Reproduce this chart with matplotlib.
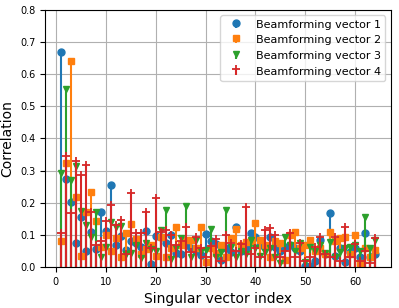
import numpy as np
import matplotlib
matplotlib.use('Agg')
import matplotlib.pyplot as plt

# singular vector index 1..64
idx = np.arange(1, 65)

# correlation values, one list per beamforming vector
bf1 = [0.670, 0.274, 0.203, 0.075, 0.155, 0.050, 0.110, 0.057, 0.171, 0.113,
       0.255, 0.068, 0.095, 0.053, 0.080, 0.075, 0.063, 0.113, 0.010, 0.095,
       0.094, 0.075, 0.100, 0.043, 0.040, 0.070, 0.060, 0.050, 0.037, 0.103,
       0.080, 0.072, 0.022, 0.060, 0.048, 0.124, 0.050, 0.060, 0.107, 0.094,
       0.070, 0.063, 0.094, 0.063, 0.050, 0.063, 0.070, 0.058, 0.050, 0.004,
       0.004, 0.020, 0.084, 0.040, 0.169, 0.034, 0.060, 0.015, 0.048, 0.060,
       0.032, 0.105, 0.030, 0.040]
bf2 = [0.082, 0.323, 0.641, 0.218, 0.035, 0.170, 0.233, 0.142, 0.062, 0.100,
       0.050, 0.090, 0.030, 0.107, 0.134, 0.086, 0.040, 0.055, 0.070, 0.035,
       0.094, 0.030, 0.060, 0.124, 0.070, 0.084, 0.084, 0.060, 0.124, 0.017,
       0.060, 0.045, 0.068, 0.030, 0.090, 0.117, 0.070, 0.079, 0.080, 0.136,
       0.084, 0.070, 0.030, 0.080, 0.074, 0.023, 0.100, 0.110, 0.060, 0.070,
       0.084, 0.050, 0.060, 0.040, 0.110, 0.080, 0.090, 0.094, 0.040, 0.100,
       0.014, 0.060, 0.030, 0.054]
bf3 = [0.294, 0.553, 0.271, 0.315, 0.173, 0.130, 0.094, 0.170, 0.031, 0.063,
       0.141, 0.125, 0.128, 0.040, 0.043, 0.068, 0.027, 0.076, 0.057, 0.050,
       0.116, 0.177, 0.025, 0.060, 0.089, 0.191, 0.032, 0.083, 0.050, 0.052,
       0.117, 0.030, 0.048, 0.177, 0.063, 0.030, 0.050, 0.040, 0.084, 0.060,
       0.035, 0.048, 0.060, 0.030, 0.011, 0.094, 0.070, 0.050, 0.074, 0.015,
       0.062, 0.050, 0.070, 0.045, 0.079, 0.030, 0.048, 0.060, 0.062, 0.070,
       0.050, 0.157, 0.060, 0.085]
bf4 = [0.105, 0.345, 0.168, 0.330, 0.286, 0.318, 0.172, 0.070, 0.082, 0.144,
       0.193, 0.131, 0.146, 0.040, 0.231, 0.105, 0.105, 0.170, 0.060, 0.214,
       0.110, 0.115, 0.100, 0.068, 0.080, 0.124, 0.048, 0.092, 0.060, 0.030,
       0.065, 0.086, 0.020, 0.100, 0.076, 0.050, 0.072, 0.186, 0.040, 0.060,
       0.030, 0.115, 0.120, 0.100, 0.030, 0.050, 0.105, 0.030, 0.075, 0.020,
       0.030, 0.063, 0.094, 0.040, 0.030, 0.094, 0.020, 0.125, 0.030, 0.072,
       0.020, 0.050, 0.011, 0.090]

series = [bf1, bf2, bf3, bf4]
labels = ['Beamforming vector 1', 'Beamforming vector 2',
          'Beamforming vector 3', 'Beamforming vector 4']
markers = ['o', 's', 'v', '+']
colors = ['C0', 'C1', 'C2', 'C3']

fig = plt.figure(figsize=(3.99, 3.08), dpi=100)
ax = fig.add_axes([0.113, 0.133, 0.867, 0.835])

for vals, lab, mk, col in zip(series, labels, markers, colors):
    ml, sl, bl = ax.stem(idx, vals, linefmt=col + '-', markerfmt=col + mk,
                         basefmt=' ', label=lab)
    ml.set_markersize(5)
    if mk == '+':
        ml.set_markeredgewidth(1.3)
        ml.set_markersize(6)
    sl.set_linewidth(1.5)

ax.set_ylim(0, 0.8)
ax.set_xlabel('Singular vector index', fontsize=10)
ax.set_ylabel('Correlation', fontsize=10)
ax.tick_params(labelsize=7)
ax.grid(True)
ax.set_axisbelow(True)
ax.legend(loc='upper right', fontsize=8)

fig.savefig('out.png', dpi=100)
